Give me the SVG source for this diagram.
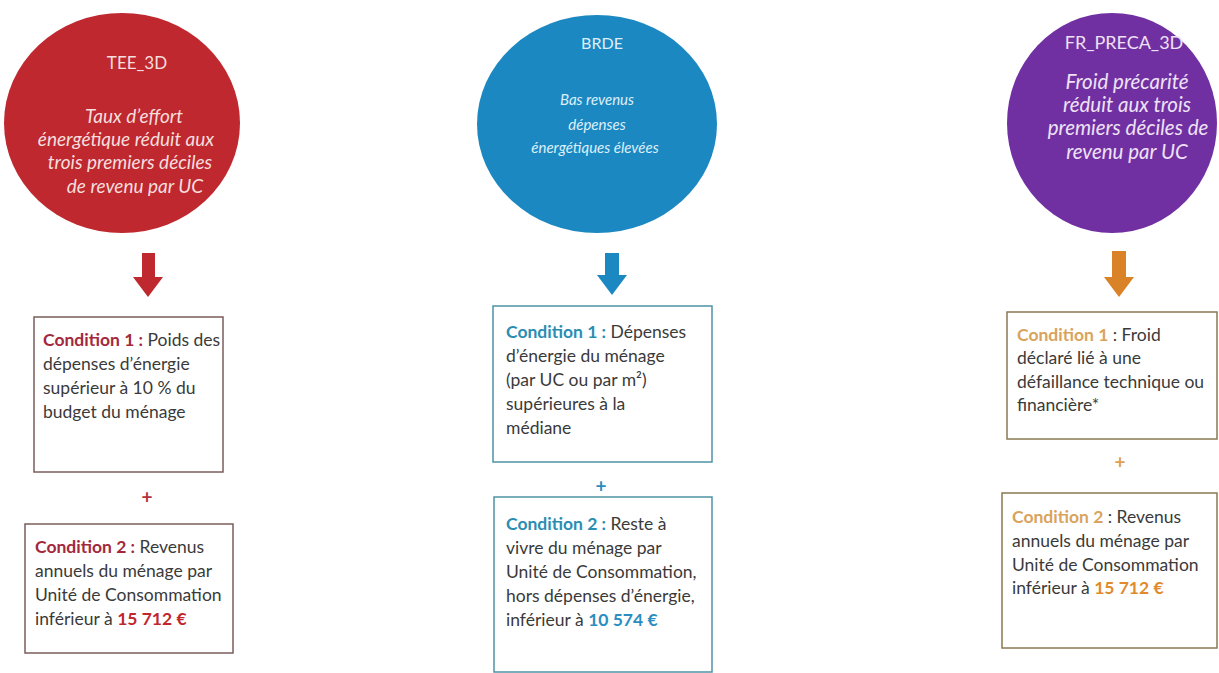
<svg xmlns="http://www.w3.org/2000/svg" width="1219" height="673" viewBox="0 0 1219 673">
<style>
  .ttl{font-family:Lato,"Open Sans","Liberation Sans",sans-serif;font-size:17px;text-anchor:middle}
  .it{font-family:Lato,"Open Sans","Liberation Sans",sans-serif;font-size:19px;font-style:italic;text-anchor:middle}
  .body{font-family:Lato,"Open Sans","Liberation Sans",sans-serif;font-size:17.5px;fill:#3a3a3a}
  .b{font-weight:bold}
  .plus{font-family:Lato,"Liberation Sans",sans-serif;font-size:19px;font-weight:bold;text-anchor:middle}
  .box{fill:#ffffff;stroke-width:1.5}
</style>
<rect width="1219" height="673" fill="#ffffff"/>

<g id="tee3d">
  <ellipse cx="122" cy="123" rx="118" ry="110" fill="#BE282E"/>
  <text class="ttl" x="137" y="69" fill="#F6DEDE">TEE_3D</text>
  <text class="it" x="134" y="123" fill="#F6DEDE">Taux d’effort</text>
  <text class="it" x="126" y="146" fill="#F6DEDE">énergétique réduit aux</text>
  <text class="it" x="130" y="169" fill="#F6DEDE">trois premiers déciles</text>
  <text class="it" x="135" y="193" fill="#F6DEDE">de revenu par UC</text>
</g>

<g id="brde">
  <ellipse cx="597" cy="124" rx="120" ry="109" fill="#1C88C2"/>
  <text class="ttl" x="602" y="49" fill="#DDF0FA" style="font-size:16px">BRDE</text>
  <text class="it" x="597" y="105" fill="#DDF0FA" style="font-size:15px">Bas revenus</text>
  <text class="it" x="597" y="130" fill="#DDF0FA" style="font-size:15px">dépenses</text>
  <text class="it" x="595" y="153" fill="#DDF0FA" style="font-size:15px">énergétiques élevées</text>
</g>

<g id="frpreca3d">
  <ellipse cx="1112" cy="123" rx="105" ry="110" fill="#7130A2"/>
  <text class="ttl" x="1124" y="49" fill="#EEE2F6" style="font-size:18px">FR_PRECA_3D</text>
  <text class="it" x="1127" y="89" fill="#EEE2F6" style="font-size:20.5px">Froid précarité</text>
  <text class="it" x="1127" y="112" fill="#EEE2F6" style="font-size:20.5px">réduit aux trois</text>
  <text class="it" x="1128" y="135" fill="#EEE2F6" style="font-size:20.5px">premiers déciles de</text>
  <text class="it" x="1127" y="159" fill="#EEE2F6" style="font-size:20.5px">revenu par UC</text>
</g>

<g id="connectors">
  <polygon points="142,253 155,253 155,277 163,277 148,297 133,277 142,277" fill="#BE282E"/>
  <polygon points="605,253 619,253 619,275 627,275 612,295 597,275 605,275" fill="#1C88C2"/>
  <polygon points="1112,251 1126,251 1126,277 1134,277 1119,297 1104,277 1112,277" fill="#D98228"/>
  <text class="plus" x="147" y="504" fill="#B3303C">+</text>
  <text class="plus" x="601" y="493" fill="#2A8DBE">+</text>
  <text class="plus" x="1120" y="469" fill="#E0A050">+</text>
</g>

<g id="tee-cond1">
  <rect class="box" x="34" y="317" width="189" height="155" stroke="#7A5C5C"/>
  <text class="body" x="43" y="346"><tspan class="b" fill="#A3283C">Condition 1 :</tspan> Poids des</text>
  <text class="body" x="43" y="370">dépenses d’énergie</text>
  <text class="body" x="43" y="394">supérieur à 10 % du</text>
  <text class="body" x="43" y="418">budget du ménage</text>
</g>

<g id="tee-cond2">
  <rect class="box" x="25" y="524" width="208" height="129" stroke="#7A5C5C"/>
  <text class="body" x="35" y="553"><tspan class="b" fill="#A3283C">Condition 2 :</tspan> Revenus</text>
  <text class="body" x="35" y="577">annuels du ménage par</text>
  <text class="body" x="35" y="601">Unité de Consommation</text>
  <text class="body" x="35" y="625">inférieur à <tspan class="b" fill="#C0272D">15 712 €</tspan></text>
</g>

<g id="brde-cond1">
  <rect class="box" x="493" y="306" width="219" height="156" stroke="#4E93A6"/>
  <text class="body" x="506" y="338"><tspan class="b" fill="#2A8DB2">Condition 1 :</tspan> Dépenses</text>
  <text class="body" x="506" y="362">d’énergie du ménage</text>
  <text class="body" x="506" y="386">(par UC ou par m²)</text>
  <text class="body" x="506" y="410">supérieures à la</text>
  <text class="body" x="506" y="434">médiane</text>
</g>

<g id="brde-cond2">
  <rect class="box" x="494" y="497" width="218" height="175" stroke="#4E93A6"/>
  <text class="body" x="506" y="530"><tspan class="b" fill="#2A8DB2">Condition 2 :</tspan> Reste à</text>
  <text class="body" x="506" y="554">vivre du ménage par</text>
  <text class="body" x="506" y="578">Unité de Consommation,</text>
  <text class="body" x="506" y="602">hors dépenses d’énergie,</text>
  <text class="body" x="506" y="626">inférieur à <tspan class="b" fill="#2A8EC0">10 574 €</tspan></text>
</g>

<g id="fr-cond1">
  <rect class="box" x="1007" y="312" width="210" height="127" stroke="#8A7A52"/>
  <text class="body" x="1017" y="341"><tspan class="b" fill="#D9A35C">Condition 1</tspan> : Froid</text>
  <text class="body" x="1017" y="364">déclaré lié à une</text>
  <text class="body" x="1017" y="388">défaillance technique ou</text>
  <text class="body" x="1017" y="411">financière*</text>
</g>

<g id="fr-cond2">
  <rect class="box" x="1002" y="493" width="215" height="155" stroke="#8A7A52"/>
  <text class="body" x="1012" y="523"><tspan class="b" fill="#D9A35C">Condition 2</tspan> : Revenus</text>
  <text class="body" x="1012" y="547">annuels du ménage par</text>
  <text class="body" x="1012" y="571">Unité de Consommation</text>
  <text class="body" x="1012" y="594">inférieur à <tspan class="b" fill="#E08A2C">15 712 €</tspan></text>
</g>
</svg>
